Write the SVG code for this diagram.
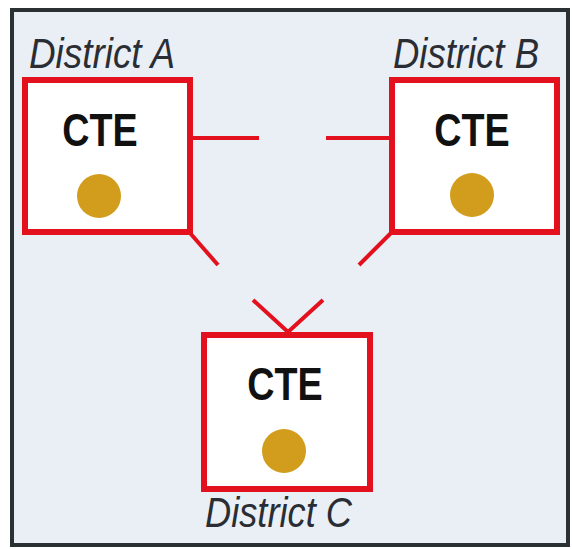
<svg xmlns="http://www.w3.org/2000/svg" width="572" height="549" viewBox="0 0 572 549">
<style>
.box{fill:#ffffff;stroke:#e3101e;stroke-width:6}
.dot{fill:#d29c1c}
.cte{font-family:"Liberation Sans",Arial,sans-serif;font-weight:bold;font-size:46px;fill:#111111;text-anchor:middle}
.lbl{font-family:"Liberation Sans",Arial,sans-serif;font-style:italic;font-size:43px;fill:#2a2d33}
.con{stroke:#e3101e;stroke-width:4;fill:none}
</style>
<rect x="0" y="0" width="572" height="549" fill="#ffffff"/>
<rect x="12" y="10" width="556" height="535" fill="#e9eff5" stroke="#2b3033" stroke-width="4"/>
<g id="connectors">
<line class="con" x1="193" y1="138" x2="259" y2="138"/>
<line class="con" x1="326" y1="138" x2="389" y2="138"/>
<line class="con" x1="190" y1="233" x2="218" y2="265"/>
<line class="con" x1="391" y1="233" x2="359" y2="265"/>
<polyline class="con" points="253,300 288,332 323,300"/>
</g>
<g id="districtA">
<rect class="box" x="25" y="80" width="165" height="152"/>
<text class="cte" transform="translate(100,146) scale(0.82,1)" x="0" y="0">CTE</text>
<circle class="dot" cx="99" cy="196" r="22"/>
<text class="lbl" x="29" y="68" textLength="146" lengthAdjust="spacingAndGlyphs">District A</text>
</g>
<g id="districtB">
<rect class="box" x="392" y="80" width="165" height="152"/>
<text class="cte" transform="translate(472,146) scale(0.82,1)" x="0" y="0">CTE</text>
<circle class="dot" cx="472" cy="195" r="22"/>
<text class="lbl" x="393" y="68" textLength="146" lengthAdjust="spacingAndGlyphs">District B</text>
</g>
<g id="districtC">
<rect class="box" x="204" y="335" width="166" height="154"/>
<text class="cte" transform="translate(285,400) scale(0.82,1)" x="0" y="0">CTE</text>
<circle class="dot" cx="284" cy="451" r="22"/>
<text class="lbl" x="205" y="527" textLength="147" lengthAdjust="spacingAndGlyphs">District C</text>
</g>
</svg>
